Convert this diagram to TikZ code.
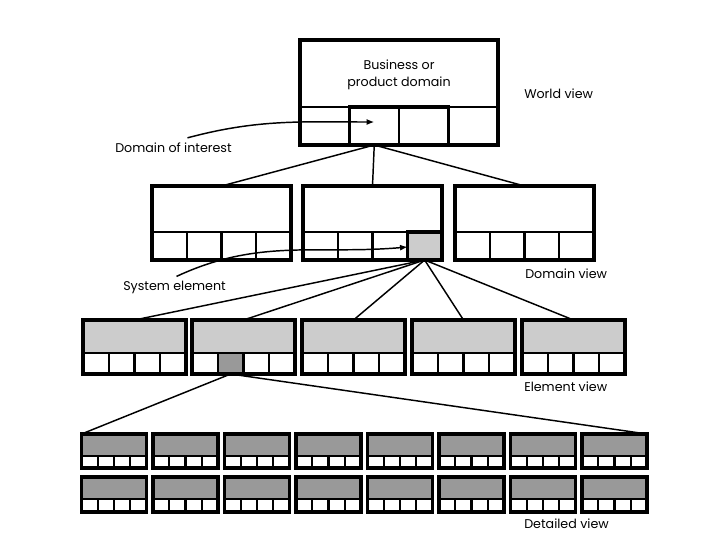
\documentclass[tikz,border=0pt]{standalone}
\usepackage{fontspec}
\setmainfont{Poppins}
\usetikzlibrary{arrows.meta,calc}
\definecolor{lightshade}{HTML}{CCCCCC}
\definecolor{darkshade}{HTML}{999999}

% #1 name, #2 left, #3 top, #4 width, #5 divider, #6 bottom,
% #7 upper fill, #8 marked cell (0 = none), #9 its fill
\newcommand{\viewbox}[9]{%
  \fill[#7] (#2,#3) rectangle ($(#2,#5)+(#4,0)$);
  \ifnum#8>0
    \fill[#9] ($(#2,#5)+({#4*(#8-1)/4},0)$) rectangle ($(#2,#6)+({#4*#8/4},0)$);
  \fi
  \coordinate (#1-nw) at (#2,#3);
  \coordinate (#1-ne) at ($(#2,#3)+(#4,0)$);
  \coordinate (#1-top) at ($(#2,#3)+({#4/2},0)$);
  \foreach \k in {1,...,4}{
    \coordinate (#1-c\k) at ($(#2,#6)+({#4*(\k-0.5)/4},0)$);
  }
  \draw[cell] (#2,#5) -- ++(#4,0);
  \foreach \k in {1,2,3}{
    \draw[cell] ($(#2,#5)+({#4*\k/4},0)$) -- ($(#2,#6)+({#4*\k/4},0)$);
  }
  \draw[frame] (#2,#3) rectangle ($(#2,#6)+(#4,0)$);
}

\begin{document}
\begin{tikzpicture}[x=0.75pt,y=-0.75pt,
  frame/.style={line width=2.5pt},
  cell/.style={line width=1.6pt},
  link/.style={line width=1.1pt},
  pointer/.style={line width=1.1pt,-{Latex[length=2mm,width=1.6mm]}},
  tag/.style={font=\fontsize{9.5}{11}\selectfont,anchor=west,inner sep=0pt}
]
\useasboundingbox (0,0) rectangle (720,540);

% world view
\viewbox{world}{300}{40}{198}{107}{145}{white}{0}{white}
\draw[frame] (349.5,107) rectangle (448.5,145);
\node[font=\fontsize{9.5}{13}\selectfont,align=center] (business) at (399,75) {Business or\\product domain};

% domain view
\viewbox{dA}{152}{186}{139}{232}{260}{white}{0}{white}
\viewbox{dB}{303}{186}{139}{232}{260}{white}{4}{lightshade}
\viewbox{dC}{455}{186}{139}{232}{260}{white}{0}{white}
\draw[frame] (407.25,232) rectangle (442,260);

% element view
\foreach \i/\xx/\m in {1/83/0,2/192/2,3/302/0,4/412/0,5/522/0}{
  \viewbox{e\i}{\xx}{320}{103}{353}{374}{lightshade}{\m}{darkshade}
}

% detailed view
\foreach \i in {1,...,8}{
  \pgfmathsetmacro\xx{81.5+71.5*(\i-1)}
  \viewbox{d\i}{\xx}{434}{65}{456}{468}{darkshade}{0}{white}
  \viewbox{f\i}{\xx}{477}{65}{499}{512}{darkshade}{0}{white}
}

% links between levels
\foreach \b in {dA,dB,dC}{
  \draw[link] (world-c2) -- (\b-top);
}
\foreach \i in {1,...,5}{
  \draw[link] (dB-c4) -- (e\i-top);
}
\draw[link] (d1-nw) -- (e2-c2) -- (d8-ne);

% labels
\node[tag] (worldtag) at (524,94) {World view};
\node[tag] (domaintag) at (525,274) {Domain view};
\node[tag] (elemtag) at (524,387) {Element view};
\node[tag] (detailtag) at (524,524) {Detailed view};
\node[tag] (interest) at (115,148) {Domain of interest};
\node[tag] (syselem) at (123,287) {System element};

\coordinate (interest-head) at ($(world-c2)+(0,-23)$);
\coordinate (syselem-head) at ($(dB-c4)+(-17,-13)$);
\draw[pointer] ($(interest.north)+(14,-5)$) to[out=15,in=180] (interest-head);
\draw[pointer] ($(syselem.north)+(2,-4)$) to[out=25,in=185] (syselem-head);
\end{tikzpicture}
\end{document}
